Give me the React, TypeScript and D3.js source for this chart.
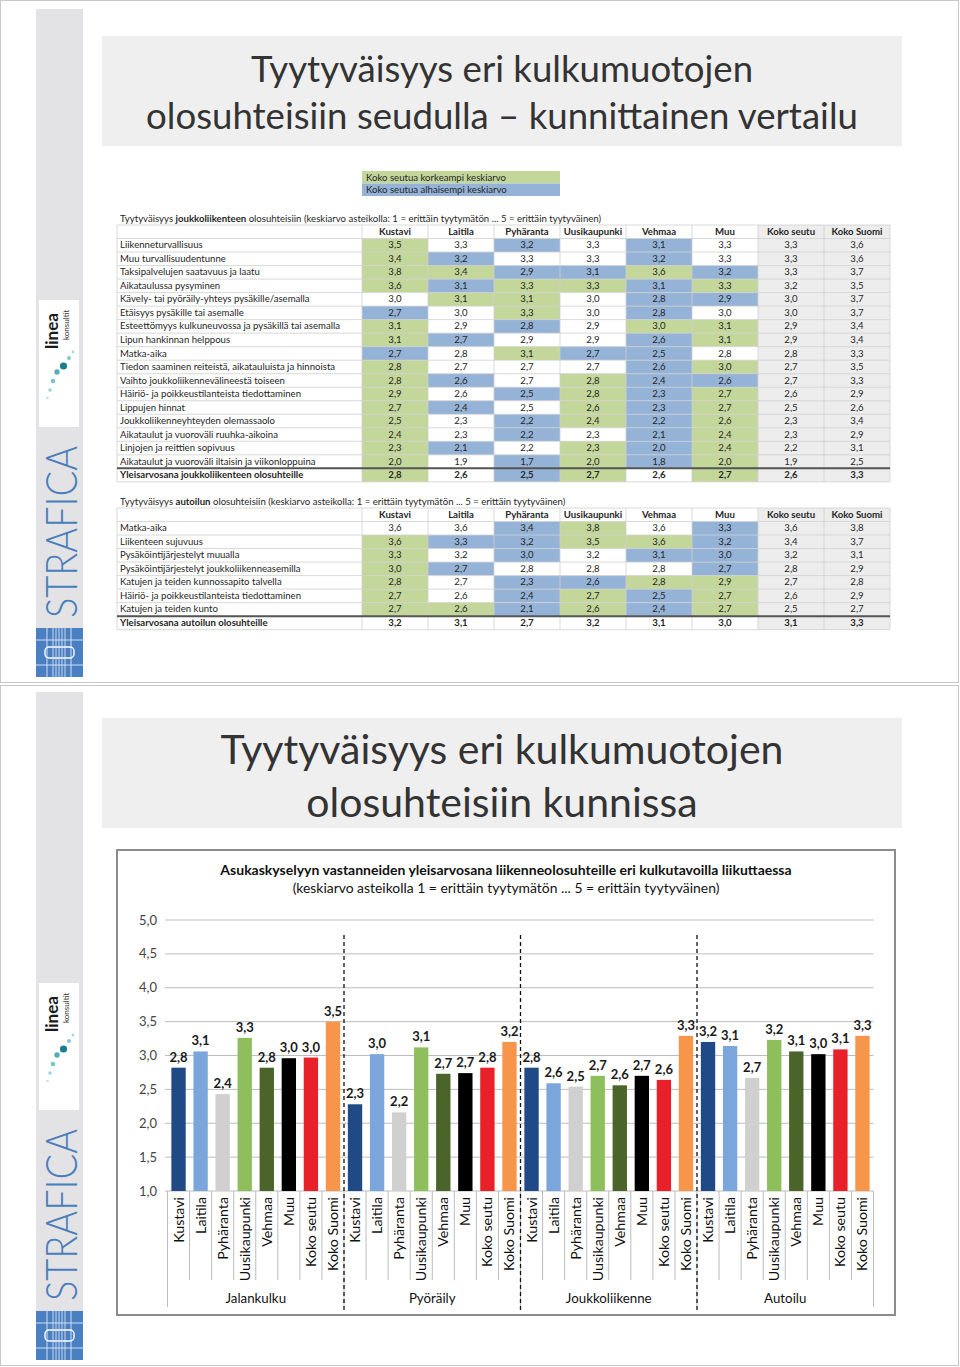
import React from "react";
import * as d3 from "d3";

const towns = ["Kustavi", "Laitila", "Pyhäranta", "Uusikaupunki", "Vehmaa", "Muu", "Koko seutu", "Koko Suomi"];

// joukkoliikenne table
const ptLabels = [
  "Liikenneturvallisuus",
  "Muu turvallisuudentunne",
  "Taksipalvelujen saatavuus ja laatu",
  "Aikataulussa pysyminen",
  "Kävely- tai pyöräily-yhteys pysäkille/asemalla",
  "Etäisyys pysäkille tai asemalle",
  "Esteettömyys kulkuneuvossa ja pysäkillä tai asemalla",
  "Lipun hankinnan helppous",
  "Matka-aika",
  "Tiedon saaminen reiteistä, aikatauluista ja hinnoista",
  "Vaihto joukkoliikennevälineestä toiseen",
  "Häiriö- ja poikkeustilanteista tiedottaminen",
  "Lippujen hinnat",
  "Joukkoliikenneyhteyden olemassaolo",
  "Aikataulut ja vuoroväli ruuhka-aikoina",
  "Linjojen ja reittien sopivuus",
  "Aikataulut ja vuoroväli iltaisin ja viikonloppuina",
];
const ptValues = [
  [3.5, 3.3, 3.2, 3.3, 3.1, 3.3, 3.3, 3.6],
  [3.4, 3.2, 3.3, 3.3, 3.2, 3.3, 3.3, 3.6],
  [3.8, 3.4, 2.9, 3.1, 3.6, 3.2, 3.3, 3.7],
  [3.6, 3.1, 3.3, 3.3, 3.1, 3.3, 3.2, 3.5],
  [3.0, 3.1, 3.1, 3.0, 2.8, 2.9, 3.0, 3.7],
  [2.7, 3.0, 3.3, 3.0, 2.8, 3.0, 3.0, 3.7],
  [3.1, 2.9, 2.8, 2.9, 3.0, 3.1, 2.9, 3.4],
  [3.1, 2.7, 2.9, 2.9, 2.6, 3.1, 2.9, 3.4],
  [2.7, 2.8, 3.1, 2.7, 2.5, 2.8, 2.8, 3.3],
  [2.8, 2.7, 2.7, 2.7, 2.6, 3.0, 2.7, 3.5],
  [2.8, 2.6, 2.7, 2.8, 2.4, 2.6, 2.7, 3.3],
  [2.9, 2.6, 2.5, 2.8, 2.3, 2.7, 2.6, 2.9],
  [2.7, 2.4, 2.5, 2.6, 2.3, 2.7, 2.5, 2.6],
  [2.5, 2.3, 2.2, 2.4, 2.2, 2.6, 2.3, 3.4],
  [2.4, 2.3, 2.2, 2.3, 2.1, 2.4, 2.3, 2.9],
  [2.3, 2.1, 2.2, 2.3, 2.0, 2.4, 2.2, 3.1],
  [2.0, 1.9, 1.7, 2.0, 1.8, 2.0, 1.9, 2.5],
];
const ptTotalLabel = "Yleisarvosana joukkoliikenteen olosuhteille";
const ptTotal = [2.8, 2.6, 2.5, 2.7, 2.6, 2.7, 2.6, 3.3];

// autoilu table
const carLabels = [
  "Matka-aika",
  "Liikenteen sujuvuus",
  "Pysäköintijärjestelyt muualla",
  "Pysäköintijärjestelyt joukkoliikenneasemilla",
  "Katujen ja teiden kunnossapito talvella",
  "Häiriö- ja poikkeustilanteista tiedottaminen",
  "Katujen ja teiden kunto",
];
const carValues = [
  [3.6, 3.6, 3.4, 3.8, 3.6, 3.3, 3.6, 3.8],
  [3.6, 3.3, 3.2, 3.5, 3.6, 3.2, 3.4, 3.7],
  [3.3, 3.2, 3.0, 3.2, 3.1, 3.0, 3.2, 3.1],
  [3.0, 2.7, 2.8, 2.8, 2.8, 2.7, 2.8, 2.9],
  [2.8, 2.7, 2.3, 2.6, 2.8, 2.9, 2.7, 2.8],
  [2.7, 2.6, 2.4, 2.7, 2.5, 2.7, 2.6, 2.9],
  [2.7, 2.6, 2.1, 2.6, 2.4, 2.7, 2.5, 2.7],
];
const carTotalLabel = "Yleisarvosana autoilun olosuhteille";
const carTotal = [3.2, 3.1, 2.7, 3.2, 3.1, 3.0, 3.1, 3.3];

// bar chart
const modes = ["Jalankulku", "Pyöräily", "Joukkoliikenne", "Autoilu"];
const walkBars = [2.82, 3.06, 2.43, 3.26, 2.82, 2.96, 2.97, 3.5];
const bikeBars = [2.28, 3.02, 2.16, 3.12, 2.73, 2.74, 2.82, 3.2];
const transitBars = [2.82, 2.59, 2.54, 2.7, 2.56, 2.7, 2.64, 3.29];
const carBars = [3.2, 3.14, 2.67, 3.23, 3.06, 3.02, 3.09, 3.29];
const yTicks = [1, 1.5, 2, 2.5, 3, 3.5, 4, 4.5, 5];
const townColors = ["#1f4a86", "#7aa6db", "#d0d0d0", "#8fbf5c", "#4a6429", "#000000", "#e8202a", "#f7964a"];

const FONT = "Lato, 'Open Sans', sans-serif";
const GREEN = "#c4d79b";
const BLUE = "#95b3d7";
const GREY = "#ededed";
const TFS = 9.6;
const fmt = (v: number) => v.toFixed(1).replace(".", ",");

const Sidebar = ({ dy }: { dy: number }) => {
  const dots = [
    [73, 352, 1.4, "#a9d7df"], [69, 358, 2, "#86c6d0"], [63.5, 366, 3.6, "#1a7d8e"],
    [57, 372, 2.7, "#55adbb"], [53, 381, 2.3, "#7ec2cd"], [50, 390, 1.8, "#9fd1d9"], [47.5, 398, 1.3, "#bde2e7"],
  ] as [number, number, number, string][];
  return (
    <g transform={`translate(0,${dy})`}>
      <rect x={36} y={9} width={47} height={668} fill="#e3e3e5" />
      <rect x={39} y={300} width={40} height={127} fill="#fff" />
      <text transform="translate(58,349) rotate(-90)" fontFamily={FONT} fontWeight={700} fontSize={17} fill="#1a1a1a">linea</text>
      <text transform="translate(69,340) rotate(-90)" fontFamily={FONT} fontSize={8} fill="#333">konsultit</text>
      {dots.map(([x, y, r, c], i) => <circle key={i} cx={x} cy={y} r={r} fill={c} />)}
      <text transform="translate(77,618) rotate(-90)" fontFamily={FONT} fontWeight={300} fontSize={44}
        fill="#4a7ebb" textLength={172} lengthAdjust="spacingAndGlyphs">STRAFICA</text>
      <rect x={36} y={628} width={47} height={49} fill="#4a7fc1" />
      {[640, 665].map(y => <line key={y} x1={36} x2={83} y1={y} y2={y} stroke="#cfe0f3" strokeWidth={1} />)}
      {[47, 71].map(x => <line key={x} x1={x} x2={x} y1={628} y2={677} stroke="#cfe0f3" strokeWidth={1} />)}
      <rect x={45} y={647} width={29} height={11} rx={4} fill="none" stroke="#fff" strokeWidth={1.4} />
      {[53, 56, 59, 62, 65].map(x => <line key={x} x1={x} x2={x} y1={628} y2={677} stroke="#e6eefa" strokeWidth={0.8} />)}
    </g>
  );
};

const SlideTitle = ({ y, lines, size, gap }: { y: number; lines: string[]; size: number; gap: number }) => (
  <g>
    <rect x={102} y={y} width={800} height={110} fill="#efefef" />
    {lines.map((l, i) => (
      <text key={i} x={502} y={y + 46 + i * gap} textAnchor="middle" fontFamily={FONT} fontSize={size} fill="#333">{l}</text>
    ))}
  </g>
);

const Table = ({ top, mode, labels, values, totalLabel, total, colorTotal }: {
  top: number; mode: string; labels: string[]; values: number[][]; totalLabel: string; total: number[]; colorTotal: boolean;
}) => {
  const rh = 13.52;
  const col = d3.scaleBand<string>().domain(towns).range([362, 890]);
  const headTop = top + 7;
  const rows = [...values, total];
  const rowY = d3.scaleLinear().domain([0, 1]).range([headTop + rh, headTop + 2 * rh]);
  const bottom = rowY(rows.length);
  const fill = (v: number, seutu: number, j: number, colored: boolean) => {
    if (j >= 6) return GREY;
    if (!colored) return "#fff";
    const a = Math.round(v * 10), b = Math.round(seutu * 10);
    return a > b ? GREEN : a < b ? BLUE : "#fff";
  };
  const base = rh - 3.7;
  return (
    <g fontFamily={FONT} fontSize={TFS} fill="#262626">
      <text x={120} y={top + 3.5}>Tyytyväisyys <tspan fontWeight={700}>{mode}</tspan> olosuhteisiin (keskiarvo asteikolla: 1 = erittäin tyytymätön ... 5 = erittäin tyytyväinen)</text>
      {towns.map((t, j) => (
        <g key={t}>
          <rect x={col(t)} y={headTop} width={col.bandwidth()} height={rh} fill={j >= 6 ? GREY : "#fff"} />
          <text x={col(t)! + col.bandwidth() / 2} y={headTop + base} textAnchor="middle" fontWeight={700}>{t}</text>
        </g>
      ))}
      {rows.map((r, i) => {
        const isTotal = i === rows.length - 1;
        const y0 = rowY(i);
        return (
          <g key={i}>
            {r.map((v, j) => (
              <g key={j}>
                <rect x={col(towns[j])} y={y0} width={col.bandwidth()} height={rh}
                  fill={fill(v, r[6], j, !isTotal || colorTotal)} />
                <text x={col(towns[j])! + col.bandwidth() / 2} y={y0 + base} textAnchor="middle"
                  fontWeight={isTotal ? 700 : 400}>{fmt(v)}</text>
              </g>
            ))}
            <text x={120} y={y0 + base} fontWeight={isTotal ? 700 : 400}>{isTotal ? totalLabel : labels[i]}</text>
          </g>
        );
      })}
      {d3.range(rows.length + 2).map(i => {
        const y = i === 0 ? headTop : rowY(i - 1);
        return <line key={i} x1={117} x2={890} y1={y} y2={y} stroke="#cfcfcf" strokeWidth={0.8} />;
      })}
      {[117, ...towns.map(t => col(t)!), 890].map((x, i) => (
        <line key={i} x1={x} x2={x} y1={headTop} y2={bottom} stroke="#cfcfcf" strokeWidth={0.8} />
      ))}
      <line x1={117} x2={890} y1={rowY(rows.length - 1)} y2={rowY(rows.length - 1)} stroke="#555" strokeWidth={2} />
    </g>
  );
};

const BarChart = () => {
  const series = [walkBars, bikeBars, transitBars, carBars];
  const cats = modes.flatMap((m, g) => towns.map((t, j) => ({ key: `${g}-${j}`, town: t, j, g, v: series[g][j] })));
  const x = d3.scaleBand<string>().domain(cats.map(c => c.key)).range([167.5, 873.5]).paddingInner(0.35).paddingOuter(0.175);
  const step = x.step();
  const y = d3.scaleLinear().domain([1, 5]).range([1191, 920]);
  const groupX = d3.scaleLinear().domain([0, 4]).range([167.5, 873.5]);
  return (
    <g fontFamily={FONT}>
      <rect x={117} y={850} width={778} height={465} fill="#fff" stroke="#8c8c8c" strokeWidth={2} />
      <text x={506} y={875} textAnchor="middle" fontWeight={700} fontSize={14} fill="#111">Asukaskyselyyn vastanneiden yleisarvosana liikenneolosuhteille eri kulkutavoilla liikuttaessa</text>
      <text x={506} y={893} textAnchor="middle" fontSize={13.9} fill="#111">(keskiarvo asteikolla 1 = erittäin tyytymätön ... 5 = erittäin tyytyväinen)</text>
      {yTicks.map(t => (
        <g key={t}>
          <line x1={165} x2={873.5} y1={y(t)} y2={y(t)} stroke="#bdbdbd" strokeWidth={1} />
          <text x={157} y={y(t) + 4.5} textAnchor="end" fontSize={13} fill="#444">{fmt(t)}</text>
        </g>
      ))}
      {cats.map(c => (
        <g key={c.key}>
          <rect x={x(c.key)} y={y(c.v)} width={x.bandwidth()} height={y(1) - y(c.v)} fill={townColors[c.j]} />
          <text x={x(c.key)! + x.bandwidth() / 2} y={y(c.v) - 6} textAnchor="middle" fontWeight={700} fontSize={13} fill="#1a1a1a">{fmt(c.v)}</text>
          <text transform={`translate(${x(c.key)! + x.bandwidth() / 2 + 5},1197) rotate(-90)`} textAnchor="end" fontSize={14.2} fill="#111">{c.town}</text>
        </g>
      ))}
      {d3.range(33).map(i => {
        const xx = 167.5 + i * step;
        const edge = i % 8 === 0;
        return <line key={i} x1={xx} x2={xx} y1={1191} y2={edge ? 1307 : 1280} stroke="#bdbdbd" strokeWidth={1} />;
      })}
      {modes.map((m, g) => (
        <text key={m} x={(groupX(g) + groupX(g + 1)) / 2} y={1303} textAnchor="middle" fontSize={13.3} fill="#111">{m}</text>
      ))}
      {[1, 2, 3].map(g => (
        <line key={g} x1={groupX(g)} x2={groupX(g)} y1={935} y2={1313} stroke="#111" strokeWidth={1.3} strokeDasharray="4,3" />
      ))}
    </g>
  );
};

export default function App() {
  return (
    <svg width={960} height={1367} viewBox="0 0 960 1367" style={{ position: "absolute", left: 0, top: 0 }}>
      <rect x={0} y={0} width={960} height={1367} fill="#fff" />
      <rect x={0.5} y={0.5} width={958} height={682} fill="none" stroke="#c8c8c8" />
      <rect x={0.5} y={685.5} width={958} height={680} fill="none" stroke="#c8c8c8" />
      <Sidebar dy={0} />
      <Sidebar dy={683} />
      <SlideTitle y={36} lines={["Tyytyväisyys eri kulkumuotojen", "olosuhteisiin seudulla – kunnittainen vertailu"]} size={36.6} gap={47} />
      <SlideTitle y={718} lines={["Tyytyväisyys eri kulkumuotojen", "olosuhteisiin kunnissa"]} size={41} gap={53} />
      <g fontFamily={FONT} fontSize={TFS} fill="#262626">
        <rect x={362} y={171} width={198} height={12.5} fill={GREEN} />
        <rect x={362} y={183.5} width={198} height={12.5} fill={BLUE} />
        <text x={366} y={180.8}>Koko seutua korkeampi keskiarvo</text>
        <text x={366} y={193.3}>Koko seutua alhaisempi keskiarvo</text>
      </g>
      <Table top={218} mode="joukkoliikenteen" labels={ptLabels} values={ptValues} totalLabel={ptTotalLabel} total={ptTotal} colorTotal={true} />
      <Table top={501} mode="autoilun" labels={carLabels} values={carValues} totalLabel={carTotalLabel} total={carTotal} colorTotal={false} />
      <BarChart />
    </svg>
  );
}
